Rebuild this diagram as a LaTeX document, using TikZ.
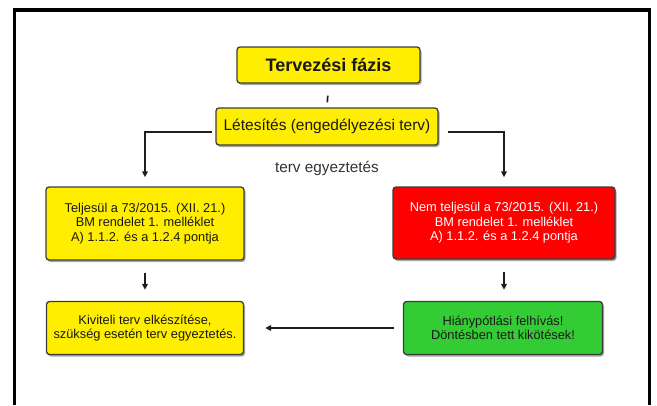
\documentclass[tikz,border=0pt]{standalone}
\usepackage{fontspec}
\setmainfont{Liberation Sans}
\usetikzlibrary{arrows.meta,shadows}
\definecolor{boxyellow}{RGB}{255,238,0}
\definecolor{boxred}{RGB}{255,0,0}
\definecolor{boxgreen}{RGB}{52,204,52}
\definecolor{boxborder}{RGB}{60,60,60}
\definecolor{linecol}{RGB}{30,30,30}
\definecolor{txtdark}{RGB}{25,25,25}
\begin{document}
\begin{tikzpicture}[x=1pt,y=-1pt,
  box/.style={draw=boxborder, line width=1.3pt, rounded corners=3pt,
    drop shadow={shadow xshift=1.5pt, shadow yshift=-2pt, fill=black, opacity=0.35},
    inner sep=0pt, align=center, text=txtdark,
    font=\fontsize{12.8}{14.5}\selectfont},
  conn/.style={draw=linecol, line width=1.7pt},
  arr/.style={conn, -{Triangle[length=6pt,width=5.5pt]}}]
\useasboundingbox (0,0) rectangle (657,405);
\draw[line width=3.5pt] (14.5,405) -- (14.5,10) -- (649.5,10) -- (649.5,405);

\node[box, fill=boxyellow, minimum width=183pt, minimum height=36pt,
  font=\fontsize{18}{20}\selectfont\bfseries] (title) at (328.5,65) {Tervezési fázis};
\node[box, fill=boxyellow, minimum width=222pt, minimum height=37pt,
  font=\fontsize{15.5}{17}\selectfont] (let) at (327,126.5) {Létesítés (engedélyezési terv)};
\node[text=black!80, font=\fontsize{15.3}{17}\selectfont] (egy) at (327,168) {terv egyeztetés};

\node[box, fill=boxyellow, minimum width=198pt, minimum height=73pt] (tel) at (145,223.5)
  {Teljesül a 73/2015. (XII. 21.)\\BM rendelet 1. melléklet\\A) 1.1.2. és a 1.2.4 pontja};
\node[box, fill=boxred, text=white, minimum width=222pt, minimum height=72pt] (red) at (504,223)
  {Nem teljesül a 73/2015. (XII. 21.)\\BM rendelet 1. melléklet\\A) 1.1.2. és a 1.2.4 pontja};

\node[box, fill=boxyellow, minimum width=197pt, minimum height=53pt] (kiv) at (145,328)
  {Kiviteli terv elkészítése,\\szükség esetén terv egyeztetés.};
\node[box, fill=boxgreen, minimum width=199pt, minimum height=53pt] (grn) at (503,328)
  {Hiánypótlási felhívás!\\Döntésben tett kikötések!};

\draw[conn, shorten <=12pt, shorten >=5pt] (title.south) -- (let.north);
\draw[arr, shorten <=3pt, shorten >=9pt] ([yshift=-5.5pt]let.west) -| (tel.north);
\draw[arr, shorten <=9pt, shorten >=9pt] ([yshift=-5.5pt]let.east) -| (red.north);
\draw[arr, shorten <=12pt, shorten >=11pt] (tel.south) -- (kiv.north);
\draw[arr, shorten <=12pt, shorten >=11pt] (red.south) -- (red.south |- grn.north);
\draw[arr, shorten <=9pt, shorten >=21pt] (grn.west) -- (kiv.east);
\end{tikzpicture}
\end{document}
